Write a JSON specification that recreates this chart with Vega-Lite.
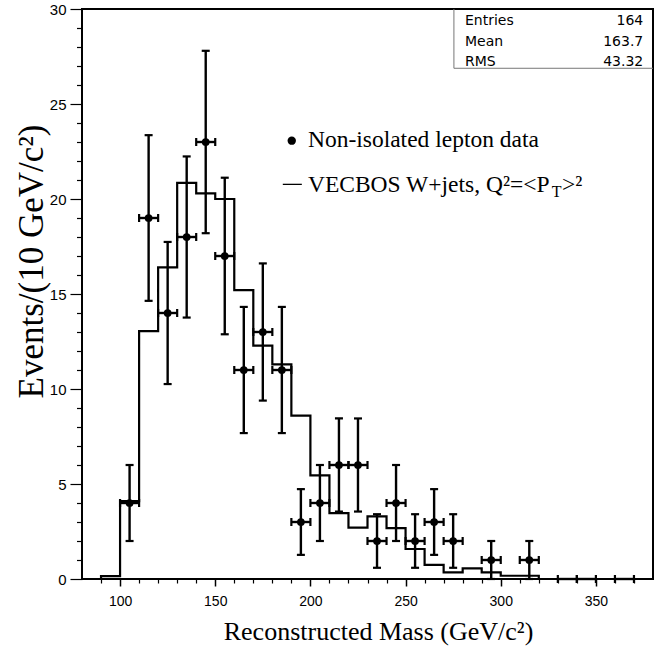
{
  "$schema": "https://vega.github.io/schema/vega-lite/v6.json",
  "width": 571,
  "height": 570,
  "autosize": "none",
  "padding": {"left": 82, "top": 9, "right": 19, "bottom": 71},
  "background": "white",
  "config": {"view": {"stroke": "black", "strokeWidth": 2}},
  "resolve": {"axis": {"x": "independent", "y": "independent"}},
  "datasets": {
    "pts": [
      {"m": 105, "xlo": 100, "xhi": 110, "n": 4, "lo": 2, "hi": 6},
      {"m": 115, "xlo": 110, "xhi": 120, "n": 19, "lo": 14.64, "hi": 23.36},
      {"m": 125, "xlo": 120, "xhi": 130, "n": 14, "lo": 10.26, "hi": 17.74},
      {"m": 135, "xlo": 130, "xhi": 140, "n": 18, "lo": 13.76, "hi": 22.24},
      {"m": 145, "xlo": 140, "xhi": 150, "n": 23, "lo": 18.2, "hi": 27.8},
      {"m": 155, "xlo": 150, "xhi": 160, "n": 17, "lo": 12.88, "hi": 21.12},
      {"m": 165, "xlo": 160, "xhi": 170, "n": 11, "lo": 7.68, "hi": 14.32},
      {"m": 175, "xlo": 170, "xhi": 180, "n": 13, "lo": 9.39, "hi": 16.61},
      {"m": 185, "xlo": 180, "xhi": 190, "n": 11, "lo": 7.68, "hi": 14.32},
      {"m": 195, "xlo": 190, "xhi": 200, "n": 3, "lo": 1.27, "hi": 4.73},
      {"m": 205, "xlo": 200, "xhi": 210, "n": 4, "lo": 2, "hi": 6},
      {"m": 215, "xlo": 210, "xhi": 220, "n": 6, "lo": 3.55, "hi": 8.45},
      {"m": 225, "xlo": 220, "xhi": 230, "n": 6, "lo": 3.55, "hi": 8.45},
      {"m": 235, "xlo": 230, "xhi": 240, "n": 2, "lo": 0.59, "hi": 3.41},
      {"m": 245, "xlo": 240, "xhi": 250, "n": 4, "lo": 2, "hi": 6},
      {"m": 255, "xlo": 250, "xhi": 260, "n": 2, "lo": 0.59, "hi": 3.41},
      {"m": 265, "xlo": 260, "xhi": 270, "n": 3, "lo": 1.27, "hi": 4.73},
      {"m": 275, "xlo": 270, "xhi": 280, "n": 2, "lo": 0.59, "hi": 3.41},
      {"m": 295, "xlo": 290, "xhi": 300, "n": 1, "lo": 0, "hi": 2},
      {"m": 315, "xlo": 310, "xhi": 320, "n": 1, "lo": 0, "hi": 2},
      {"m": 335, "xlo": 330, "xhi": 340, "n": 0, "lo": 0, "hi": 0},
      {"m": 345, "xlo": 340, "xhi": 350, "n": 0, "lo": 0, "hi": 0},
      {"m": 365, "xlo": 360, "xhi": 370, "n": 0, "lo": 0, "hi": 0}
    ],
    "hist": [
      {"edge": 90, "count": 0}, {"edge": 90, "count": 0.15}, {"edge": 100, "count": 4.1},
      {"edge": 110, "count": 13.05}, {"edge": 120, "count": 16.4}, {"edge": 130, "count": 20.85},
      {"edge": 140, "count": 20.3}, {"edge": 150, "count": 20.0}, {"edge": 160, "count": 15.2},
      {"edge": 170, "count": 12.28}, {"edge": 180, "count": 11.3}, {"edge": 190, "count": 8.6},
      {"edge": 200, "count": 5.45}, {"edge": 210, "count": 3.47}, {"edge": 220, "count": 2.7},
      {"edge": 230, "count": 3.3}, {"edge": 240, "count": 2.68}, {"edge": 250, "count": 1.58},
      {"edge": 260, "count": 0.74}, {"edge": 270, "count": 0.35}, {"edge": 280, "count": 0.56},
      {"edge": 290, "count": 0.35}, {"edge": 300, "count": 0.17}, {"edge": 310, "count": 0.17},
      {"edge": 320, "count": 0}
    ]
  },
  "layer": [
    {
      "data": {"name": "hist"},
      "mark": {"type": "line", "interpolate": "step-after", "color": "black", "strokeWidth": 2.2},
      "encoding": {
        "x": {
          "field": "edge", "type": "quantitative",
          "scale": {"domain": [80, 380], "nice": false, "zero": false},
          "axis": {
            "orient": "bottom",
            "values": [100, 150, 200, 250, 300, 350],
            "domain": false, "grid": false,
            "tickColor": "black", "tickWidth": 1.5, "tickSize": 7,
            "labelFont": "Liberation Sans", "labelFontSize": 14, "labelColor": "black",
            "labelPadding": 8, "labelOverlap": false, "labelFlush": false, "labelBound": false,
            "title": "Reconstructed Mass (GeV/c²)",
            "titleFont": "Liberation Serif", "titleFontSize": 26, "titleFontWeight": "normal", "titleColor": "black",
            "titleX": 296, "titleY": 60, "titleBaseline": "alphabetic", "titleAlign": "center"
          }
        },
        "y": {
          "field": "count", "type": "quantitative",
          "scale": {"domain": [0, 30], "nice": false, "zero": false},
          "axis": {
            "orient": "left",
            "values": [0, 5, 10, 15, 20, 25, 30],
            "domain": false, "grid": false,
            "tickColor": "black", "tickWidth": 1.2, "tickSize": 12,
            "labelFont": "Liberation Sans", "labelFontSize": 15, "labelColor": "black",
            "labelPadding": 4, "labelOverlap": false, "labelFlush": false, "labelBound": false,
            "title": "Events/(10 GeV/c²)",
            "titleFont": "Liberation Serif", "titleFontSize": 35, "titleFontWeight": "normal", "titleColor": "black",
            "titleX": -40, "titleY": 252, "titleAngle": 270, "titleBaseline": "alphabetic", "titleAlign": "center"
          }
        },
        "order": [{"field": "edge"}, {"field": "count"}]
      }
    },
    {
      "data": {"name": "pts"},
      "transform": [{"filter": "datum.n > 0"}],
      "mark": {"type": "rule", "color": "black", "strokeWidth": 2.4},
      "encoding": {
        "x": {
          "field": "m", "type": "quantitative",
          "scale": {"domain": [80, 380], "nice": false, "zero": false},
          "axis": {
            "orient": "bottom",
            "values": [90, 110, 120, 130, 140, 160, 170, 180, 190, 210, 220, 230, 240, 260, 270, 280, 290, 310, 320, 330, 340, 360, 370],
            "domain": false, "grid": false, "labels": false, "title": null,
            "tickColor": "black", "tickWidth": 1.2, "tickSize": 4
          }
        },
        "y": {
          "field": "lo", "type": "quantitative",
          "scale": {"domain": [0, 30], "nice": false, "zero": false},
          "axis": {
            "orient": "left",
            "values": [1, 2, 3, 4, 6, 7, 8, 9, 11, 12, 13, 14, 16, 17, 18, 19, 21, 22, 23, 24, 26, 27, 28, 29],
            "domain": false, "grid": false, "labels": false, "title": null,
            "tickColor": "black", "tickWidth": 1.2, "tickSize": 5.5
          }
        },
        "y2": {"field": "hi"}
      }
    },
    {
      "data": {"name": "pts"},
      "transform": [{"filter": "datum.n > 0"}],
      "mark": {"type": "tick", "orient": "horizontal", "color": "black", "size": 8, "thickness": 2.2, "opacity": 1},
      "encoding": {
        "x": {"field": "m", "type": "quantitative", "axis": null},
        "y": {"field": "lo", "type": "quantitative", "axis": null}
      }
    },
    {
      "data": {"name": "pts"},
      "transform": [{"filter": "datum.n > 0"}],
      "mark": {"type": "tick", "orient": "horizontal", "color": "black", "size": 8, "thickness": 2.2, "opacity": 1},
      "encoding": {
        "x": {"field": "m", "type": "quantitative", "axis": null},
        "y": {"field": "hi", "type": "quantitative", "axis": null}
      }
    },
    {
      "data": {"name": "pts"},
      "mark": {"type": "rule", "color": "black", "strokeWidth": 2.4},
      "encoding": {
        "x": {"field": "xlo", "type": "quantitative", "axis": null},
        "x2": {"field": "xhi"},
        "y": {"field": "n", "type": "quantitative", "axis": null}
      }
    },
    {
      "data": {"name": "pts"},
      "mark": {"type": "tick", "orient": "vertical", "color": "black", "size": 8, "thickness": 2.2, "opacity": 1},
      "encoding": {
        "x": {"field": "xlo", "type": "quantitative", "axis": null},
        "y": {"field": "n", "type": "quantitative", "axis": null}
      }
    },
    {
      "data": {"name": "pts"},
      "mark": {"type": "tick", "orient": "vertical", "color": "black", "size": 8, "thickness": 2.2, "opacity": 1},
      "encoding": {
        "x": {"field": "xhi", "type": "quantitative", "axis": null},
        "y": {"field": "n", "type": "quantitative", "axis": null}
      }
    },
    {
      "data": {"name": "pts"},
      "transform": [{"filter": "datum.n > 0"}],
      "mark": {"type": "circle", "color": "black", "size": 60, "opacity": 1},
      "encoding": {
        "x": {"field": "m", "type": "quantitative", "axis": null},
        "y": {"field": "n", "type": "quantitative", "axis": null}
      }
    },
    {
      "data": {"values": [{}]},
      "mark": {"type": "circle", "color": "black", "size": 70, "opacity": 1},
      "encoding": {"x": {"datum": 190.2, "axis": null}, "y": {"datum": 23.07, "axis": null}}
    },
    {
      "data": {"values": [{}]},
      "mark": {"type": "rule", "color": "black", "strokeWidth": 1.3},
      "encoding": {"x": {"datum": 185.5, "axis": null}, "x2": {"datum": 195.5}, "y": {"datum": 20.77, "axis": null}}
    },
    {
      "data": {"values": [{}]},
      "mark": {"type": "text", "text": "Non-isolated lepton data", "font": "Liberation Serif", "fontSize": 23.5, "align": "left", "baseline": "alphabetic", "color": "black"},
      "encoding": {"x": {"datum": 198.7, "axis": null}, "y": {"datum": 22.74, "axis": null}}
    },
    {
      "data": {"values": [{}]},
      "mark": {"type": "text", "text": "VECBOS W+jets, Q²=<P", "font": "Liberation Serif", "fontSize": 23.5, "align": "left", "baseline": "alphabetic", "color": "black"},
      "encoding": {"x": {"datum": 198.7, "axis": null}, "y": {"datum": 20.37, "axis": null}}
    },
    {
      "data": {"values": [{}]},
      "mark": {"type": "text", "text": "T", "font": "Liberation Serif", "fontSize": 16, "align": "left", "baseline": "alphabetic", "color": "black"},
      "encoding": {"x": {"datum": 326.8, "axis": null}, "y": {"datum": 20.1, "axis": null}}
    },
    {
      "data": {"values": [{}]},
      "mark": {"type": "text", "text": ">²", "font": "Liberation Serif", "fontSize": 23.5, "align": "left", "baseline": "alphabetic", "color": "black"},
      "encoding": {"x": {"datum": 332.2, "axis": null}, "y": {"datum": 20.37, "axis": null}}
    },
    {
      "data": {"values": [{}]},
      "mark": {"type": "rule", "color": "#777777", "strokeWidth": 1},
      "encoding": {"x": {"datum": 275.4, "axis": null}, "y": {"datum": 26.88, "axis": null}, "y2": {"datum": 30}}
    },
    {
      "data": {"values": [{}]},
      "mark": {"type": "rule", "color": "#777777", "strokeWidth": 1},
      "encoding": {"x": {"datum": 275.4, "axis": null}, "x2": {"datum": 380}, "y": {"datum": 26.88, "axis": null}}
    },
    {
      "data": {"values": [{}]},
      "mark": {"type": "text", "text": "Entries", "font": "DejaVu Sans", "fontSize": 14, "align": "left", "baseline": "alphabetic", "color": "black"},
      "encoding": {"x": {"datum": 281.2, "axis": null}, "y": {"datum": 29.15, "axis": null}}
    },
    {
      "data": {"values": [{}]},
      "mark": {"type": "text", "text": "Mean", "font": "DejaVu Sans", "fontSize": 14, "align": "left", "baseline": "alphabetic", "color": "black"},
      "encoding": {"x": {"datum": 281.2, "axis": null}, "y": {"datum": 28.07, "axis": null}}
    },
    {
      "data": {"values": [{}]},
      "mark": {"type": "text", "text": "RMS", "font": "DejaVu Sans", "fontSize": 14, "align": "left", "baseline": "alphabetic", "color": "black"},
      "encoding": {"x": {"datum": 281.2, "axis": null}, "y": {"datum": 27.0, "axis": null}}
    },
    {
      "data": {"values": [{}]},
      "mark": {"type": "text", "text": "164", "font": "DejaVu Sans", "fontSize": 14, "align": "right", "baseline": "alphabetic", "color": "black"},
      "encoding": {"x": {"datum": 374.9, "axis": null}, "y": {"datum": 29.15, "axis": null}}
    },
    {
      "data": {"values": [{}]},
      "mark": {"type": "text", "text": "163.7", "font": "DejaVu Sans", "fontSize": 14, "align": "right", "baseline": "alphabetic", "color": "black"},
      "encoding": {"x": {"datum": 374.9, "axis": null}, "y": {"datum": 28.07, "axis": null}}
    },
    {
      "data": {"values": [{}]},
      "mark": {"type": "text", "text": "43.32", "font": "DejaVu Sans", "fontSize": 14, "align": "right", "baseline": "alphabetic", "color": "black"},
      "encoding": {"x": {"datum": 374.9, "axis": null}, "y": {"datum": 27.0, "axis": null}}
    }
  ]
}
